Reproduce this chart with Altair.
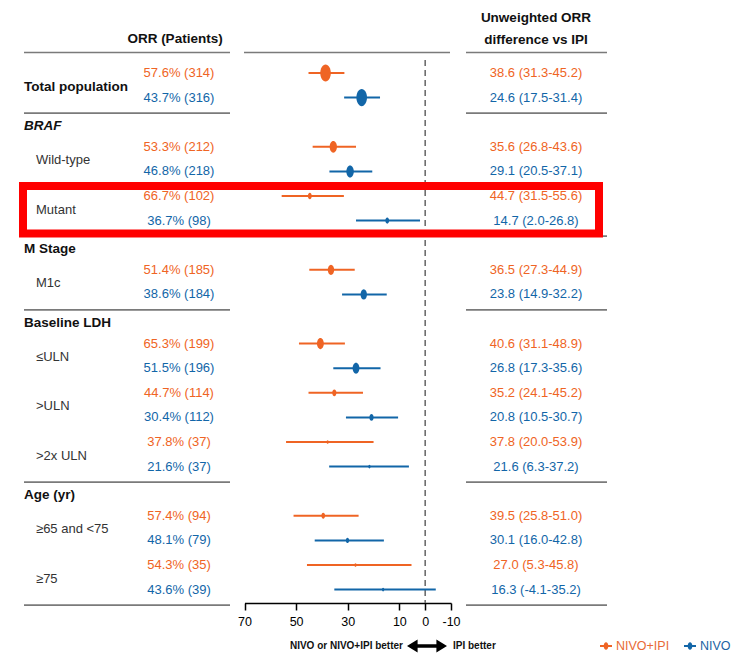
import altair as alt
import pandas as pd

# ---------------- data ----------------
subgroups = ["Total population", "Wild-type", "Mutant", "M1c", "≤ULN", ">ULN",
             ">2x ULN", "≥65 and <75", "≥75"]
subgroup_category = ["", "BRAF", "BRAF", "M Stage", "Baseline LDH", "Baseline LDH",
                     "Baseline LDH", "Age (yr)", "Age (yr)"]
categories = ["BRAF", "M Stage", "Baseline LDH", "Age (yr)"]

arms = ["NIVO+IPI", "NIVO"]

combo_orr = [57.6, 53.3, 66.7, 51.4, 65.3, 44.7, 37.8, 57.4, 54.3]
combo_n = [314, 212, 102, 185, 199, 114, 37, 94, 35]
nivo_orr = [43.7, 46.8, 36.7, 38.6, 51.5, 30.4, 21.6, 48.1, 43.6]
nivo_n = [316, 218, 98, 184, 196, 112, 37, 79, 39]

combo_diff = [38.6, 35.6, 44.7, 36.5, 40.6, 35.2, 37.8, 39.5, 27.0]
combo_lo = [31.3, 26.8, 31.5, 27.3, 31.1, 24.1, 20.0, 25.8, 5.3]
combo_hi = [45.2, 43.6, 55.6, 44.9, 48.9, 45.2, 53.9, 51.0, 45.8]
nivo_diff = [24.6, 29.1, 14.7, 23.8, 26.8, 20.8, 21.6, 30.1, 16.3]
nivo_lo = [17.5, 20.5, 2.0, 14.9, 17.3, 10.5, 6.3, 16.0, -4.1]
nivo_hi = [31.4, 37.1, 26.8, 32.2, 35.6, 30.7, 37.2, 42.8, 35.2]

tick_values = [70, 50, 30, 10, 0, -10]

# ---------------- styling ----------------
FONT = "Liberation Sans, Arial, Helvetica, sans-serif"
ORANGE = "#EF6424"
BLUE = "#1266A8"
TXT_ORANGE = "#E86A36"
TXT_BLUE = "#1C63A2"
LINE = "#7A7A7A"

# ---------------- build tables (row order -> line slots) ----------------
rows, labels, seps = [], [], []
slot = 0.0
prev_cat = None
for i, sg in enumerate(subgroups):
    cat = subgroup_category[i]
    if cat != prev_cat:
        if prev_cat is not None:
            seps.append({"slot": slot - 0.37})
        if cat:
            labels.append({"slot": slot + 0.17, "label": cat,
                           "kind": "italic" if cat == "BRAF" else "heading"})
            slot += 1
        prev_cat = cat
    labels.append({"slot": slot + 0.55, "label": sg,
                   "kind": "heading" if cat == "" else "sub"})
    vals = [(arms[0], combo_orr[i], combo_n[i], combo_diff[i], combo_lo[i], combo_hi[i]),
            (arms[1], nivo_orr[i], nivo_n[i], nivo_diff[i], nivo_lo[i], nivo_hi[i])]
    for k, (arm, orr, n, d, lo, hi) in enumerate(vals):
        rows.append({"subgroup": sg, "arm": arm, "slot": slot + k, "n": n,
                     "diff": d, "lo": lo, "hi": hi,
                     "orr_label": f"{orr:.1f}% ({n})",
                     "diff_label": f"{d:.1f} ({lo:.1f}-{hi:.1f})"})
    slot += 2
seps.append({"slot": slot - 0.37})

df = pd.DataFrame(rows)
lab = pd.DataFrame(labels)
sep = pd.DataFrame(seps)
ref = pd.DataFrame({"v": [0]})

YS = alt.Scale(domain=[0, 21], range=[65, 581.6], nice=False, zero=False)
XS = alt.Scale(domain=[70, -10], range=[236.5, 443], nice=False, zero=False)
X_AXIS = alt.Axis(values=tick_values, title=None, grid=False, domainColor="black",
                  domainWidth=1.5, tickColor="black", tickWidth=1.5, tickSize=7,
                  labelFont=FONT, labelFontSize=12.5, labelColor="black",
                  labelPadding=5, labelFlush=False, labelExpr="'' + datum.value")
COL = alt.Color("arm:N", scale=alt.Scale(domain=arms, range=[ORANGE, BLUE]), legend=None)
y_enc = alt.Y("slot:Q", scale=YS, axis=None)

base = alt.Chart(df)

whisk = base.mark_rule(strokeWidth=2).encode(
    x=alt.X("lo:Q", scale=XS, axis=X_AXIS), x2="hi:Q", y=y_enc, color=COL)

ELLIPSE = "M0,-1A0.62,1 0 1,1 0,1A0.62,1 0 1,1 0,-1Z"
pts = base.mark_point(filled=True, shape=ELLIPSE, opacity=1).encode(
    x=alt.X("diff:Q", scale=XS, axis=X_AXIS), y=y_enc, color=COL,
    size=alt.Size("n:Q", scale=alt.Scale(type="pow", exponent=2, domain=[0, 320],
                                         range=[10, 300]), legend=None))

dash = alt.Chart(ref).mark_rule(strokeDash=[6, 4], color="#6E6E6E", strokeWidth=1.6).encode(
    x=alt.X("v:Q", scale=XS, axis=X_AXIS), y=alt.value(52), y2=alt.value(595))

TXT_COL = alt.Color("arm:N", scale=alt.Scale(domain=arms, range=[TXT_ORANGE, TXT_BLUE]),
                    legend=None)
orr_txt = base.mark_text(font=FONT, fontSize=13, align="center", baseline="middle").encode(
    x=alt.value(171), y=y_enc, text="orr_label:N", color=TXT_COL)
diff_txt = base.mark_text(font=FONT, fontSize=13, align="center", baseline="middle").encode(
    x=alt.value(528), y=y_enc, text="diff_label:N", color=TXT_COL)

lab_base = alt.Chart(lab)
head_txt = lab_base.transform_filter(alt.datum.kind == "heading").mark_text(
    font=FONT, fontSize=13.5, fontWeight="bold", align="left", baseline="middle",
    color="#111111").encode(x=alt.value(16), y=y_enc, text="label:N")
ital_txt = lab_base.transform_filter(alt.datum.kind == "italic").mark_text(
    font=FONT, fontSize=13.5, fontWeight="bold", fontStyle="italic", align="left",
    baseline="middle", color="#111111").encode(x=alt.value(16), y=y_enc, text="label:N")
sub_txt = lab_base.transform_filter(alt.datum.kind == "sub").mark_text(
    font=FONT, fontSize=13, align="left", baseline="middle", color="#333333").encode(
    x=alt.value(28), y=y_enc, text="label:N")

sep_l = alt.Chart(sep).mark_rule(color=LINE, strokeWidth=1.6).encode(
    x=alt.value(16), x2=alt.value(222), y=y_enc)
sep_r = alt.Chart(sep).mark_rule(color=LINE, strokeWidth=1.6).encode(
    x=alt.value(458), x2=alt.value(599), y=y_enc)

top_l = alt.Chart(ref).mark_rule(color=LINE, strokeWidth=1.6).encode(
    x=alt.value(16), x2=alt.value(222), y=alt.value(44.5))
top_m = alt.Chart(ref).mark_rule(color=LINE, strokeWidth=1.6).encode(
    x=alt.value(236), x2=alt.value(442), y=alt.value(44.5))
top_r = alt.Chart(ref).mark_rule(color=LINE, strokeWidth=1.6).encode(
    x=alt.value(458), x2=alt.value(599), y=alt.value(44.5))

hdr_kw = dict(font=FONT, fontSize=13.5, fontWeight="bold", align="center",
              baseline="middle", color="#111111")
hdr1 = alt.Chart(ref).mark_text(text="ORR (Patients)", **hdr_kw).encode(
    x=alt.value(167), y=alt.value(31))
hdr2 = alt.Chart(ref).mark_text(text="Unweighted ORR", **hdr_kw).encode(
    x=alt.value(528), y=alt.value(9.5))
hdr3 = alt.Chart(ref).mark_text(text="difference vs IPI", **hdr_kw).encode(
    x=alt.value(528), y=alt.value(32))

red_box = alt.Chart(ref).mark_rect(fillOpacity=0, stroke="#FF0000", strokeWidth=8).encode(
    x=alt.value(15), x2=alt.value(591), y=alt.value(178), y2=alt.value(225.5))

bot_kw = dict(font=FONT, fontSize=10, fontWeight="bold", baseline="middle", color="#111111")
bot1 = alt.Chart(ref).mark_text(text="NIVO or NIVO+IPI better", align="right", **bot_kw).encode(
    x=alt.value(395), y=alt.value(638))
bot2 = alt.Chart(ref).mark_text(text="IPI better", align="left", **bot_kw).encode(
    x=alt.value(445), y=alt.value(638))
ARROW = ("M-1,0L-0.47,-0.32L-0.47,-0.09L0.47,-0.09L0.47,-0.32L1,0L0.47,0.32"
         "L0.47,0.09L-0.47,0.09L-0.47,0.32Z")
arrow = alt.Chart(ref).mark_point(shape=ARROW, filled=True, color="black", opacity=1,
                                  size=1600).encode(x=alt.value(419), y=alt.value(638))

# legend
leg = []
for name, colr, tcol, x0 in [(arms[0], ORANGE, TXT_ORANGE, 592), (arms[1], BLUE, TXT_BLUE, 676)]:
    leg.append(alt.Chart(ref).mark_rule(color=colr, strokeWidth=2).encode(
        x=alt.value(x0), x2=alt.value(x0 + 12), y=alt.value(638)))
    leg.append(alt.Chart(ref).mark_point(shape=ELLIPSE, filled=True, color=colr, opacity=1,
                                         size=56).encode(x=alt.value(x0 + 6), y=alt.value(638)))
    leg.append(alt.Chart(ref).mark_text(text=name, font=FONT, fontSize=12.5, align="left",
                                        baseline="middle", color=tcol).encode(
        x=alt.value(x0 + 16), y=alt.value(638)))

chart = alt.layer(
    sep_l, sep_r, top_l, top_m, top_r, dash, whisk, pts, orr_txt, diff_txt,
    head_txt, ital_txt, sub_txt, hdr1, hdr2, hdr3, red_box, bot1, bot2, arrow, *leg
).properties(width=724, height=595, padding=0, background="white").configure_view(stroke=None)

chart.save("out.html", embed_options={"renderer": "svg", "actions": False})
